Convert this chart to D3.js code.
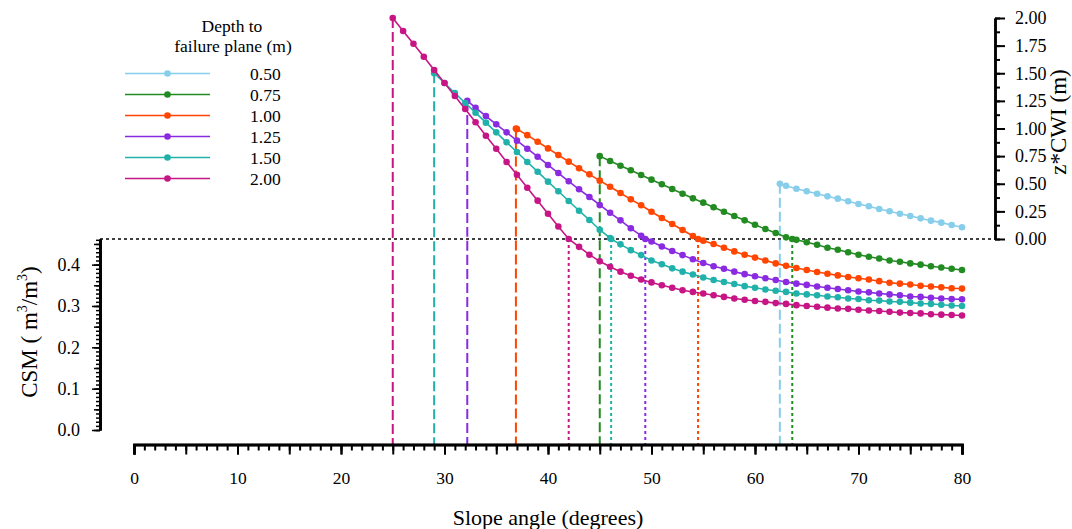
<!DOCTYPE html>
<html>
<head>
<meta charset="utf-8">
<script src="https://cdn.jsdelivr.net/npm/d3@7"></script>
<style>
  body { margin: 0; background: #fff; }
  svg { font-family: "Liberation Serif", "Times New Roman", serif; }
</style>
</head>
<body>
<svg id="chart" width="1072" height="529"></svg>
<script>
// depth to failure plane (m), legend order
var depths = ["0.50", "0.75", "1.00", "1.25", "1.50", "2.00"];
var colors = ["#87CEEB", "#228B22", "#FF4500", "#8A2BE2", "#20B2AA", "#C71585"];

// angle where z*CWI equals the depth, and angle where z*CWI reaches zero
var startAngle = [62.4, 45.0, 36.9, 32.2, 29.0, 25.0];
var crossAngle = [null, 63.6, 54.5, 49.4, 46.1, 42.0];

// z*CWI (m): value at start angle, then each whole degree before the crossing
var cwi050 = [0.50, 0.482, 0.455, 0.432, 0.410, 0.386, 0.365, 0.341, 0.317, 0.296, 0.271, 0.251, 0.229, 0.208, 0.187, 0.166, 0.148, 0.127, 0.106];
var cwi075 = [0.75, 0.706, 0.663, 0.622, 0.579, 0.537, 0.495, 0.452, 0.410, 0.368, 0.329, 0.287, 0.247, 0.208, 0.169, 0.129, 0.090, 0.054, 0.015];
var cwi100 = [1.00, 0.994, 0.94, 0.88, 0.82, 0.76, 0.70, 0.64, 0.585, 0.528, 0.473, 0.416, 0.359, 0.305, 0.247, 0.190, 0.136, 0.081, 0.027];
var cwi125 = [1.25, 1.188, 1.113, 1.038, 0.965, 0.890, 0.817, 0.745, 0.670, 0.597, 0.522, 0.450, 0.380, 0.308, 0.237, 0.169, 0.097, 0.030];
var cwi150 = [1.50, 1.412, 1.321, 1.231, 1.143, 1.053, 0.965, 0.875, 0.787, 0.697, 0.609, 0.519, 0.432, 0.344, 0.256, 0.172, 0.084, 0.008];
var cwi200 = [2.00, 1.882, 1.767, 1.650, 1.529, 1.412, 1.294, 1.176, 1.056, 0.935, 0.817, 0.697, 0.582, 0.464, 0.347, 0.229, 0.113];

// CSM (m3/m3): each whole degree after the crossing up to 80
var csm050 = [];
var csm075 = [0.460, 0.454, 0.448, 0.441, 0.436, 0.430, 0.424, 0.419, 0.415, 0.410, 0.407, 0.403, 0.400, 0.396, 0.393, 0.390, 0.387];
var csm100 = [0.458, 0.450, 0.441, 0.432, 0.424, 0.417, 0.410, 0.403, 0.397, 0.392, 0.387, 0.382, 0.378, 0.374, 0.370, 0.367, 0.364, 0.360, 0.356, 0.354, 0.352, 0.349, 0.347, 0.345, 0.343, 0.342];
var csm125 = [0.456, 0.444, 0.433, 0.423, 0.413, 0.404, 0.396, 0.390, 0.383, 0.377, 0.372, 0.367, 0.363, 0.358, 0.354, 0.351, 0.347, 0.344, 0.341, 0.338, 0.335, 0.333, 0.330, 0.328, 0.326, 0.323, 0.322, 0.320, 0.318, 0.317, 0.316];
var csm150 = [0.449, 0.435, 0.423, 0.410, 0.401, 0.391, 0.383, 0.376, 0.369, 0.363, 0.358, 0.353, 0.348, 0.344, 0.340, 0.337, 0.334, 0.330, 0.328, 0.326, 0.323, 0.321, 0.318, 0.317, 0.314, 0.313, 0.311, 0.310, 0.308, 0.306, 0.305, 0.303, 0.301, 0.300];
var csm200 = [0.443, 0.424, 0.408, 0.395, 0.383, 0.373, 0.364, 0.357, 0.350, 0.344, 0.338, 0.334, 0.330, 0.326, 0.322, 0.318, 0.315, 0.312, 0.310, 0.307, 0.305, 0.302, 0.300, 0.298, 0.296, 0.294, 0.293, 0.291, 0.289, 0.288, 0.286, 0.284, 0.283, 0.282, 0.280, 0.279, 0.278, 0.277];

var cwiValues = [cwi050, cwi075, cwi100, cwi125, cwi150, cwi200];
var csmValues = [csm050, csm075, csm100, csm125, csm150, csm200];

var xTicks = d3.range(0, 81, 10);
var cwiTicks = d3.range(0, 2.01, 0.25);
var csmTicks = [0, 0.1, 0.2, 0.3, 0.4];

var svg = d3.select("#chart");

var x = d3.scaleLinear().domain([0, 80]).range([134, 962]);
var yTop = d3.scaleLinear().domain([0, 2]).range([239, 18]);
var yBot = d3.scaleLinear().domain([0, 0.462]).range([430, 239]);
var xAxisY = 444.5;

// build the points: upper part on z*CWI scale, lower part on CSM scale
var series = depths.map(function(d, i) {
  var s = startAngle[i], c = crossAngle[i];
  var upAngles = [s].concat(d3.range(Math.floor(s) + 1, c == null ? 81 : Math.ceil(c)));
  var pts = upAngles.map(function(a, j) { return [x(a), yTop(cwiValues[i][j])]; });
  if (c != null) {
    pts.push([x(c), yTop(0)]);
    d3.range(Math.floor(c) + 1, 81).forEach(function(a, j) {
      pts.push([x(a), yBot(csmValues[i][j])]);
    });
  }
  return {key: d, color: colors[i], start: s, cross: c, depth: +d, pts: pts};
});

// horizontal zero line
svg.append("line")
  .attr("x1", 100).attr("x2", 995)
  .attr("y1", yTop(0)).attr("y2", yTop(0))
  .attr("stroke", "#000").attr("stroke-width", 1.5)
  .attr("stroke-dasharray", "3,3");

// vertical guide lines
var guides = svg.append("g");
series.forEach(function(s) {
  guides.append("line")
    .attr("x1", x(s.start)).attr("x2", x(s.start))
    .attr("y1", yTop(s.depth)).attr("y2", xAxisY)
    .attr("stroke", s.color).attr("stroke-width", 2)
    .attr("stroke-dasharray", "10,4");
  if (s.cross != null) {
    guides.append("line")
      .attr("x1", x(s.cross)).attr("x2", x(s.cross))
      .attr("y1", yTop(0)).attr("y2", xAxisY)
      .attr("stroke", s.color).attr("stroke-width", 2)
      .attr("stroke-dasharray", "3,3");
  }
});

// curves
var line = d3.line();
var curves = svg.append("g").selectAll("g")
  .data(series)
  .enter().append("g");

curves.append("path")
  .attr("d", function(s) { return line(s.pts); })
  .attr("fill", "none")
  .attr("stroke", function(s) { return s.color; })
  .attr("stroke-width", 1.6);

curves.selectAll("circle")
  .data(function(s) { return s.pts.map(function(p) { return {p: p, c: s.color}; }); })
  .enter().append("circle")
  .attr("cx", function(d) { return d.p[0]; })
  .attr("cy", function(d) { return d.p[1]; })
  .attr("r", 3.3)
  .attr("fill", function(d) { return d.c; });

// bottom axis
var xAxisG = svg.append("g").attr("transform", "translate(0," + xAxisY + ")");
xAxisG.call(d3.axisBottom(x).tickValues(d3.range(0, 81, 1)).tickSize(6).tickFormat(""));
xAxisG.call(function(g) {
  g.append("g").call(d3.axisBottom(x).tickValues(d3.range(0, 81, 5)).tickSize(10).tickFormat(""));
  g.append("g").call(d3.axisBottom(x).tickValues(xTicks).tickSize(10).tickPadding(17).tickFormat(d3.format("d")));
});
xAxisG.selectAll(".domain").attr("stroke-width", 2.5);
xAxisG.selectAll(".tick line").attr("stroke-width", 2);
xAxisG.selectAll(".tick text").attr("font-size", 17.5).attr("font-family", "Liberation Serif").attr("fill", "#000");

svg.append("text")
  .attr("x", 548).attr("y", 525)
  .attr("text-anchor", "middle")
  .attr("font-size", 22)
  .text("Slope angle (degrees)");

// left CSM axis
var yLeftG = svg.append("g").attr("transform", "translate(100,0)");
yLeftG.append("g").call(d3.axisLeft(yBot).tickValues(d3.range(0, 0.462, 0.01)).tickSize(4).tickFormat("").tickSizeOuter(0));
yLeftG.append("g").call(d3.axisLeft(yBot).tickValues(d3.range(0, 0.46, 0.05)).tickSize(6).tickFormat("").tickSizeOuter(0));
yLeftG.append("g").call(d3.axisLeft(yBot).tickValues(csmTicks).tickSize(8).tickPadding(12).tickFormat(d3.format(".1f")).tickSizeOuter(0));
yLeftG.selectAll(".domain").attr("stroke-width", 2.5);
yLeftG.selectAll(".tick line").attr("stroke-width", 1.5);
yLeftG.selectAll(".tick text").attr("font-size", 18).attr("font-family", "Liberation Serif").attr("fill", "#000");

var csmLabel = svg.append("text")
  .attr("transform", "translate(37,332) rotate(-90)")
  .attr("text-anchor", "middle")
  .attr("font-size", 23);
csmLabel.append("tspan").text("CSM ( m");
csmLabel.append("tspan").attr("font-size", 14).attr("dy", -10).text("3");
csmLabel.append("tspan").attr("dy", 10).text("/m");
csmLabel.append("tspan").attr("font-size", 14).attr("dy", -10).text("3");
csmLabel.append("tspan").attr("dy", 10).text(")");

// right z*CWI axis
var yRightG = svg.append("g").attr("transform", "translate(995,0)");
yRightG.append("g").call(d3.axisRight(yTop).tickValues(d3.range(0, 2.01, 0.125)).tickSize(5).tickFormat("").tickSizeOuter(0));
yRightG.append("g").call(d3.axisRight(yTop).tickValues(cwiTicks).tickSize(10).tickPadding(10).tickFormat(d3.format(".2f")).tickSizeOuter(0));
yRightG.selectAll(".domain").attr("stroke-width", 2.5);
yRightG.selectAll(".tick line").attr("stroke-width", 2);
yRightG.selectAll(".tick text").attr("font-size", 18).attr("font-family", "Liberation Serif").attr("fill", "#000");

svg.append("text")
  .attr("transform", "translate(1066,122) rotate(-90)")
  .attr("text-anchor", "middle")
  .attr("font-size", 23)
  .text("z*CWI (m)");

// legend
var legend = svg.append("g");
legend.append("text").attr("x", 232).attr("y", 32).attr("text-anchor", "middle").attr("font-size", 17.5).text("Depth to");
legend.append("text").attr("x", 233).attr("y", 52).attr("text-anchor", "middle").attr("font-size", 17.5).text("failure plane (m)");

var rows = legend.selectAll(".row")
  .data(series)
  .enter().append("g")
  .attr("class", "row")
  .attr("transform", function(d, i) { return "translate(0," + (73.5 + i * 21) + ")"; });
rows.append("line")
  .attr("x1", 125).attr("x2", 210)
  .attr("stroke", function(d) { return d.color; })
  .attr("stroke-width", 1.6);
rows.append("circle")
  .attr("cx", 167.5).attr("r", 3.3)
  .attr("fill", function(d) { return d.color; });
rows.append("text")
  .attr("x", 250).attr("dy", "0.35em")
  .attr("font-size", 17.5)
  .text(function(d) { return d.key; });
</script>
</body>
</html>
